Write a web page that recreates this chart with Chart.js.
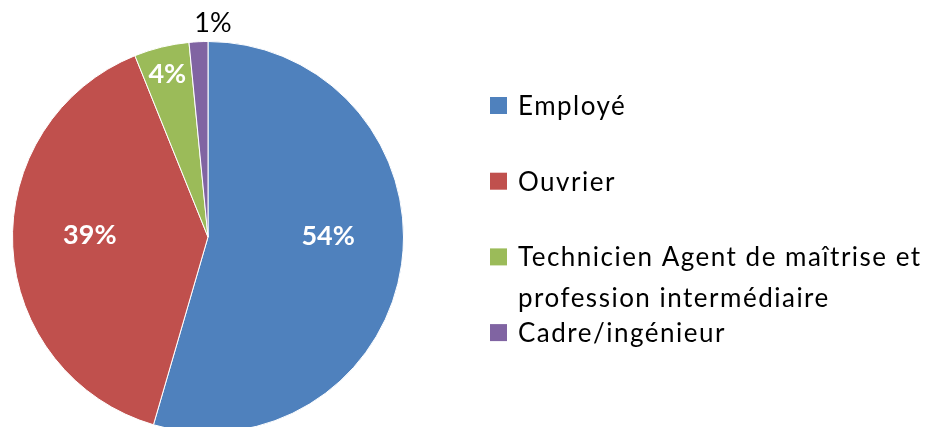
<!DOCTYPE html>
<html>
<head>
<meta charset="utf-8">
<script src="https://cdn.jsdelivr.net/npm/chart.js@4/dist/chart.umd.min.js"></script>
<style>
  html, body { margin: 0; padding: 0; background: #fff; }
  #wrap { position: relative; width: 935px; height: 427px; overflow: hidden; }
  #c { position: absolute; left: 0; top: 0; }
</style>
</head>
<body>
<div id="wrap"><canvas id="c" width="935" height="474"></canvas></div>
<script>
// ---- data ----
const categories = ["Employé", "Ouvrier", "Technicien Agent de maîtrise et profession intermédiaire", "Cadre/ingénieur"];
const legendLines = [["Employé"], ["Ouvrier"], ["Technicien Agent de maîtrise et", "profession intermédiaire"], ["Cadre/ingénieur"]];
const values = [54.5, 39.4, 4.55, 1.55];
const valueLabels = ["54%", "39%", "4%", "1%"];
const colors = ["#4F81BD", "#C0504D", "#9BBB59", "#8064A2"];

const FONT = "Lato, 'Open Sans', sans-serif";

const labelPlugin = {
  id: 'sliceLabels',
  afterDatasetsDraw(chart, args, opts) {
    const ctx = chart.ctx;
    const meta = chart.getDatasetMeta(0);
    ctx.save();
    ctx.textAlign = 'center';
    ctx.textBaseline = 'alphabetic';
    meta.data.forEach((arc, i) => {
      const p = arc.getProps(['x', 'y', 'startAngle', 'endAngle', 'outerRadius'], true);
      const a = (p.startAngle + p.endAngle) / 2;
      const s = opts.pos[i];
      const r = p.outerRadius * s.f;
      const x = p.x + Math.cos(a) * r + s.dx;
      const y = p.y + Math.sin(a) * r + s.dy;
      ctx.font = (s.bold ? 'bold ' : '') + '27px ' + FONT;
      ctx.fillStyle = s.color;
      ctx.fillText(valueLabels[i], x, y);
    });
    ctx.restore();
  }
};

const legendPlugin = {
  id: 'sideLegend',
  afterDraw(chart, args, opts) {
    const ctx = chart.ctx;
    ctx.save();
    ctx.font = opts.fontSize + 'px ' + FONT;
    if ('letterSpacing' in ctx) ctx.letterSpacing = opts.spacing + 'px';
    ctx.textAlign = 'left';
    ctx.textBaseline = 'alphabetic';
    legendLines.forEach((lines, i) => {
      const base = opts.top + i * opts.step;
      ctx.fillStyle = colors[i];
      ctx.fillRect(opts.boxX, base - opts.box - 1, opts.box, opts.box);
      ctx.fillStyle = '#000';
      lines.forEach((t, j) => ctx.fillText(t, opts.textX, base + j * opts.lineH));
    });
    ctx.restore();
  }
};

new Chart(document.getElementById('c'), {
  type: 'pie',
  data: {
    labels: categories,
    datasets: [{
      data: values,
      backgroundColor: colors,
      borderColor: '#ffffff',
      borderWidth: 1
    }]
  },
  options: {
    responsive: false,
    animation: false,
    events: [],
    layout: { padding: { left: 12, right: 531, top: 41, bottom: 41 } },
    plugins: {
      legend: { display: false },
      tooltip: { enabled: false },
      sliceLabels: {
        pos: [
          { f: 0.6, dx: 4, dy: -9, bold: true, color: '#fff' },
          { f: 0.6, dx: -1, dy: 1, bold: true, color: '#fff' },
          { f: 0.81, dx: -3, dy: 0, bold: true, color: '#fff' },
          { f: 1.05, dx: 15, dy: 0, bold: false, color: '#000' }
        ]
      },
      sideLegend: { fontSize: 26, spacing: 1.5, boxX: 490, box: 17, textX: 518, top: 115, step: 75.7, lineH: 40.5 }
    }
  },
  plugins: [labelPlugin, legendPlugin]
});
</script>
</body>
</html>
